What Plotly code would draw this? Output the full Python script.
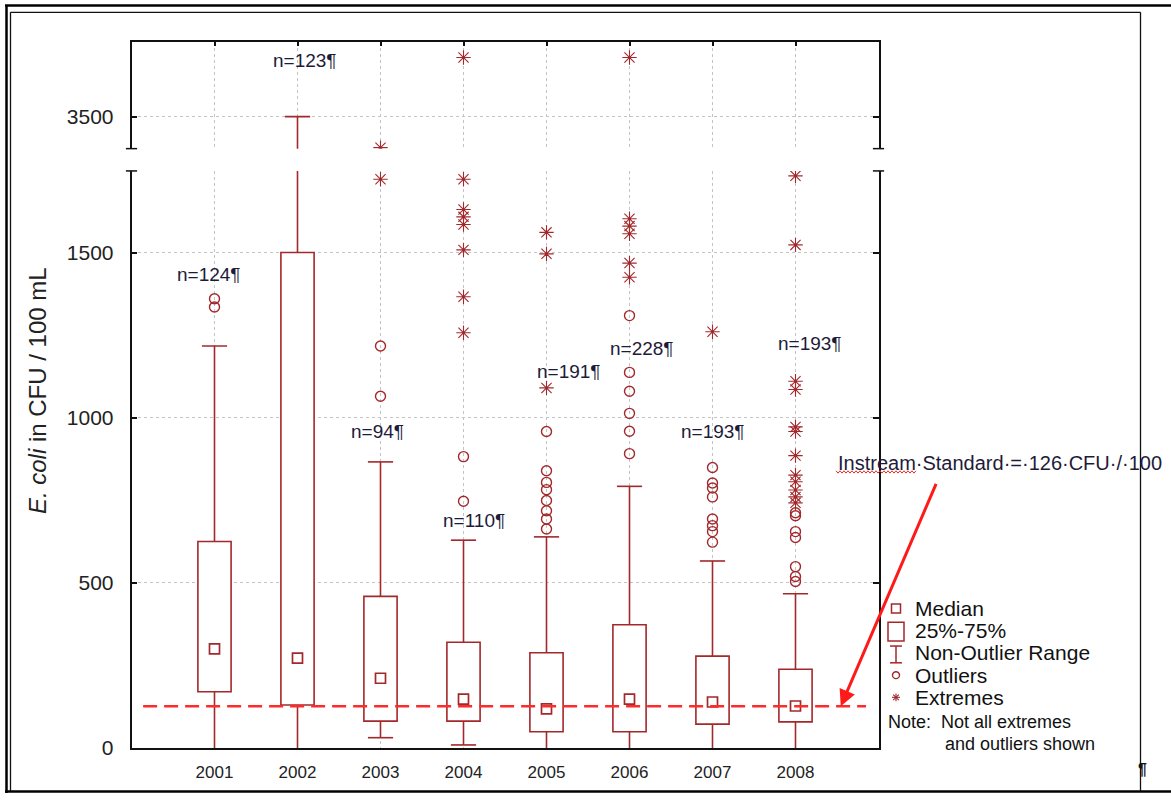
import plotly.graph_objects as go

# ---- data -------------------------------------------------------------
years = [2001, 2002, 2003, 2004, 2005, 2006, 2007, 2008]
n_obs = [124, 123, 94, 110, 191, 228, 193, 193]
q1 = [170, 130, 81, 81, 49, 49, 72, 79]
median = [300, 272, 211, 148, 118, 148, 139, 127]
q3 = [625, 1500, 459, 320, 288, 373, 278, 238]
whisker_lo = [0, 0, 31, 9, 0, 0, 0, 0]
whisker_hi = [1217, 3500, 866, 629, 639, 792, 566, 467]

outlier_values = [
    [1360, 1335],
    [],
    [1217, 1065],
    [882, 747],
    [958, 839, 804, 782, 749, 718, 693, 663],
    [1309, 1137, 1080, 1013, 959, 891],
    [849, 802, 787, 760, 693, 673, 655, 623],
    [712, 703, 655, 637, 549, 519, 504],
]
extreme_values = [
    [],
    [],
    [1722, 3406],
    [1722, 1630, 1608, 1585, 1508, 1366, 1257, 3679],
    [1561, 1496, 1090],
    [1602, 1580, 1557, 1468, 1425, 3679],
    [1260],
    [1732, 1523, 1110, 1085, 972, 958, 885, 826, 806, 781, 760, 742],
]
STANDARD = 126  # instream standard, CFU / 100 mL

# ---- layout constants ---------------------------------------------------
W, H = 1171, 804
RED = "#a3282b"
INK = "#1e1b3a"
FONT = "Liberation Sans, Arial, sans-serif"


def pxx(x):
    return x / W


def pxy(y):
    return 1 - y / H


X_DOMAIN = [pxx(131.5), pxx(878.5)]
LOW_DOMAIN = [pxy(758.3), pxy(173.3)]
UP_DOMAIN = [pxy(150.7), pxy(42.3)]
LOW_RANGE = [0, 1747]
UP_RANGE = [3403, 3727]

# label placement (x offset from the year, value on the axis, axis)
n_label_pos = [(-0.07, 1432, "y"), (0.09, 3671, "y2"), (-0.04, 957, "y"),
               (0.13, 688, "y"), (0.27, 1139, "y"), (0.15, 1208, "y"),
               (0.0, 957, "y"), (0.17, 1225, "y")]

fig = go.Figure()


def add_panel(xa, ya):
    heights = [b - a for a, b in zip(q1, q3)]
    fig.add_trace(go.Bar(
        x=years, y=heights, base=q1, width=0.4,
        marker=dict(color="white", line=dict(color=RED, width=1.6)),
        xaxis=xa, yaxis=ya, hoverinfo="skip"))
    wx, wy = [], []
    for yr, a, b, lo, hi in zip(years, q1, q3, whisker_lo, whisker_hi):
        wx += [yr, yr, None, yr, yr, None]
        wy += [b, hi, None, a, lo, None]
    fig.add_trace(go.Scatter(x=wx, y=wy, mode="lines",
                             line=dict(color=RED, width=1.6),
                             xaxis=xa, yaxis=ya, hoverinfo="skip"))
    cap_x = years + [yr for yr, lo in zip(years, whisker_lo) if lo > 0]
    cap_y = whisker_hi + [lo for lo in whisker_lo if lo > 0]
    fig.add_trace(go.Scatter(
        x=cap_x, y=cap_y, mode="markers",
        marker=dict(symbol="line-ew", size=18, color=RED,
                    line=dict(color=RED, width=1.6)),
        xaxis=xa, yaxis=ya, hoverinfo="skip"))
    fig.add_trace(go.Scatter(
        x=years, y=median, mode="markers",
        marker=dict(symbol="square", size=10, color="white",
                    line=dict(color=RED, width=1.7)),
        xaxis=xa, yaxis=ya, hoverinfo="skip"))
    ox = [yr for yr, vals in zip(years, outlier_values) for _ in vals]
    oy = [v for vals in outlier_values for v in vals]
    fig.add_trace(go.Scatter(
        x=ox, y=oy, mode="markers",
        marker=dict(symbol="circle-open", size=10, color=RED,
                    line=dict(width=1.4)),
        xaxis=xa, yaxis=ya, hoverinfo="skip"))
    ex = [yr for yr, vals in zip(years, extreme_values) for _ in vals]
    ey = [v for vals in extreme_values for v in vals]
    fig.add_trace(go.Scatter(
        x=ex, y=ey, mode="markers",
        marker=dict(symbol="asterisk-open", size=12, color=RED,
                    line=dict(width=1.1)),
        xaxis=xa, yaxis=ya, hoverinfo="skip"))


add_panel("x", "y")
add_panel("x2", "y2")

# dotted break line between the two panels
n_dots = 45
x_first, x_last = 2000.331, 2008.837
dot_x = [x_first + i * (x_last - x_first) / (n_dots - 1) for i in range(n_dots)]
fig.add_trace(go.Scatter(
    x=dot_x, y=[3395] * n_dots, mode="markers", cliponaxis=False,
    marker=dict(symbol="circle", size=7, color="#8fcc0a"),
    xaxis="x2", yaxis="y2", hoverinfo="skip"))

grid = dict(showgrid=True, gridcolor="#c4c4c4", griddash="dot", gridwidth=1)
axis_line = dict(showline=True, linecolor="#111", linewidth=1.5, zeroline=False)

fig.update_layout(
    width=W, height=H,
    margin=dict(l=0, r=0, t=0, b=0),
    paper_bgcolor="white", plot_bgcolor="white",
    showlegend=False,
    font=dict(family=FONT, color="#222"),
    xaxis=dict(domain=X_DOMAIN, range=[2000, 2009], anchor="y",
               tickvals=years, ticktext=[str(y) for y in years],
               ticks="", tickfont=dict(size=17, color="#222"),
               ticklabelstandoff=8, **grid, **axis_line),
    xaxis2=dict(domain=X_DOMAIN, range=[2000, 2009], anchor="y2",
                matches="x", side="top", tickvals=years,
                showticklabels=False, ticks="inside", ticklen=5,
                tickcolor="#111", tickwidth=1.5, **grid, **axis_line),
    yaxis=dict(domain=LOW_DOMAIN, range=LOW_RANGE, anchor="x",
               tickvals=[0, 500, 1000, 1500], ticks="inside", ticklen=6,
               tickcolor="#111", tickwidth=1.5, mirror="ticks",
               tickfont=dict(size=21, color="#222"), ticklabelstandoff=12,
               **grid, **axis_line),
    yaxis2=dict(domain=UP_DOMAIN, range=UP_RANGE, anchor="x2",
                tickvals=[3500], ticks="inside", ticklen=6,
                tickcolor="#111", tickwidth=1.5, mirror="ticks",
                tickfont=dict(size=21, color="#222"), ticklabelstandoff=12,
                **grid, **axis_line),
)

shapes = []

# break caps on both sides of the axis break
for xd in (0.0, 1.0):
    shapes.append(dict(type="line", xref="x domain", yref="y domain",
                       x0=xd - 0.0075, x1=xd + 0.0075, y0=1, y1=1,
                       line=dict(color="#111", width=1.5)))
    shapes.append(dict(type="line", xref="x2 domain", yref="y2 domain",
                       x0=xd - 0.0075, x1=xd + 0.0075, y0=0, y1=0,
                       line=dict(color="#111", width=1.5)))

# instream standard line
shapes.append(dict(type="line", xref="x", yref="y", x0=2000.14, x1=2008.85,
                   y0=STANDARD, y1=STANDARD, layer="above",
                   line=dict(color="#ff2a2a", width=2.5, dash="14px,7px")))


def pline(x0, y0, x1, y1, color="#111", width=1.5):
    return dict(type="line", xref="paper", yref="paper",
                x0=pxx(x0), y0=pxy(y0), x1=pxx(x1), y1=pxy(y1),
                line=dict(color=color, width=width))


# page frame
shapes += [
    pline(5, 5.5, W, 5.5, "#000", 2.5),
    pline(6.5, 5, 6.5, H, "#000", 2.5),
    pline(5, 802.5, W, 802.5, "#000", 2.5),
    pline(10.5, 12.5, 1140.5, 12.5, "#111", 1.3),
    pline(10.5, 12.5, 10.5, 802, "#111", 1.3),
    pline(1140.5, 12.5, 1140.5, 802, "#111", 1.3),
]

# key symbols
key_y = [617, 639.5, 662, 684.5, 707]
shapes.append(dict(type="rect", xref="paper", yref="paper",
                   x0=pxx(891.5), x1=pxx(900.5),
                   y0=pxy(key_y[0] + 4.5), y1=pxy(key_y[0] - 4.5),
                   line=dict(color=RED, width=1.5)))
shapes.append(dict(type="rect", xref="paper", yref="paper",
                   x0=pxx(888), x1=pxx(904), y0=pxy(650), y1=pxy(631),
                   line=dict(color=RED, width=1.5)))
shapes += [pline(896, 655, 896, 672, RED), pline(890, 655, 902, 655, RED),
           pline(890, 672, 902, 672, RED)]
shapes.append(dict(type="circle", xref="paper", yref="paper",
                   x0=pxx(892.5), x1=pxx(899.5), y0=pxy(688), y1=pxy(681),
                   line=dict(color=RED, width=1.4)))
shapes += [pline(892, 707, 900, 707, RED, 1.1), pline(896, 703, 896, 711, RED, 1.1),
           pline(893.2, 704.2, 898.8, 709.8, RED, 1.1),
           pline(893.2, 709.8, 898.8, 704.2, RED, 1.1)]

# wavy spell-check underline below "Instream"
pts = []
x = 836.0
k = 0
while x <= 917:
    pts.append((pxx(x), pxy(478.5 + (1.2 if k % 2 else -1.2))))
    x += 2.0
    k += 1
path = "M " + " L ".join(f"{a:.5f},{b:.5f}" for a, b in pts)
shapes.append(dict(type="path", xref="paper", yref="paper", path=path,
                   line=dict(color="#e03030", width=1)))

fig.update_layout(shapes=shapes)

ann = []
for yr, n, (dx, yv, ya) in zip(years, n_obs, n_label_pos):
    ann.append(dict(x=yr + dx, y=yv, xref="x2" if ya == "y2" else "x", yref=ya,
                    text=f"n={n}¶", showarrow=False,
                    font=dict(size=19, color=INK, family=FONT)))

# arrow pointing at the standard line
ann.append(dict(x=2008.545, y=STANDARD, xref="x", yref="y", text="",
                showarrow=True, ax=96, ay=-224, axref="pixel", ayref="pixel",
                arrowhead=2, arrowsize=1.1, arrowwidth=3,
                arrowcolor="#ff1a1a", standoff=0))
ann.append(dict(x=pxx(836), y=pxy(469), xref="paper", yref="paper",
                xanchor="left", yanchor="middle", showarrow=False,
                text=f"Instream·Standard·=·{STANDARD}·CFU·/·100",
                font=dict(size=20, color=INK, family=FONT)))

# y-axis title
ann.append(dict(x=pxx(22), y=pxy(396), xref="paper", yref="paper",
                text="<i>E. coli</i> in CFU / 100 mL", textangle=-90,
                showarrow=False, font=dict(size=24, color="#222", family=FONT)))

# key text
key_labels = ["Median", "25%-75%", "Non-Outlier Range", "Outliers", "Extremes"]
for label, yy in zip(key_labels, key_y):
    ann.append(dict(x=pxx(913), y=pxy(yy), xref="paper", yref="paper",
                    xanchor="left", yanchor="middle", showarrow=False,
                    text=label, font=dict(size=21, color="#111", family=FONT)))
ann.append(dict(x=pxx(886), y=pxy(732), xref="paper", yref="paper",
                xanchor="left", yanchor="middle", showarrow=False,
                text="Note:\u00a0\u00a0Not all extremes",
                font=dict(size=18, color="#111", family=FONT)))
ann.append(dict(x=pxx(943), y=pxy(754), xref="paper", yref="paper",
                xanchor="left", yanchor="middle", showarrow=False,
                text="and outliers shown",
                font=dict(size=18, color="#111", family=FONT)))
ann.append(dict(x=pxx(1149), y=pxy(791), xref="paper", yref="paper",
                showarrow=False, text="<b>¶</b>",
                font=dict(size=16, color="#111", family=FONT)))

fig.update_layout(annotations=ann)

fig.write_html("out.html")
